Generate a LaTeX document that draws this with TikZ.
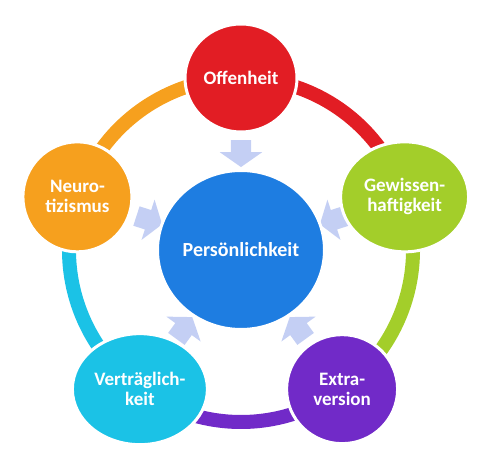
\documentclass[tikz,border=0pt]{standalone}
\usepackage{fontspec}
\setmainfont{Carlito}
\usetikzlibrary{shapes.geometric,shapes.arrows}
\definecolor{offen}{RGB}{226,29,36}
\definecolor{gewissen}{RGB}{163,206,42}
\definecolor{extra}{RGB}{113,42,200}
\definecolor{vertrag}{RGB}{27,194,230}
\definecolor{neuro}{RGB}{246,160,30}
\definecolor{kern}{RGB}{30,125,225}
\definecolor{pfeil}{RGB}{196,207,244}
\begin{document}
\begin{tikzpicture}[x=1pt,y=1pt]
    \tikzstyle{trait}=[ellipse, draw=white, line width=3pt, inner sep=0pt, text=white, align=center, font=\fontsize{19}{20}\selectfont\bfseries]
    \tikzstyle{core}=[trait, font=\fontsize{20}{22}\selectfont\bfseries]
    \tikzstyle{ring}=[line width=14pt]
    \tikzstyle{push}=[single arrow, fill=pfeil, draw=none, inner xsep=0pt, inner ysep=10pt, minimum height=27pt, single arrow head extend=11pt, single arrow tip angle=110, single arrow head indent=0pt]

    \useasboundingbox (0,0) rectangle (502,462);
    \coordinate (M) at (241,212);

    % Draw the ring segments
    \foreach \a / \col in {90/offen, 18/gewissen, -54/extra, -126/vertrag, 162/neuro}
        \draw[ring, draw=\col] ([shift={(\a:172)}]M) arc[start angle=\a, delta angle=-72, radius=172];

    % Draw the arrows towards the centre
    \foreach \name / \a in {O/90, G/18, E/-54, V/-126, N/162}
        \node[push, rotate=\a+180] (A-\name) at ([shift={(\a:100)}]M) {};

    % Draw the trait nodes
    \foreach \name / \a / \w / \h / \col / \txt in {
        O/90/112/108/offen/Offenheit,
        G/18/128/110/gewissen/{Gewissen-\\haftigkeit},
        E/-54/111/109/extra/{Extra-\\version},
        V/-126/135/111/vertrag/{Verträglich-\\keit},
        N/162/109/110/neuro/{Neuro-\\tizismus}}
        \node[trait, fill=\col, minimum width=\w pt, minimum height=\h pt] (\name) at ([shift={(\a:172)}]M) {\txt};

    % The centre
    \node[core, fill=kern, minimum width=167pt, minimum height=159pt] (P) at (M) {Persönlichkeit};
\end{tikzpicture}
\end{document}
